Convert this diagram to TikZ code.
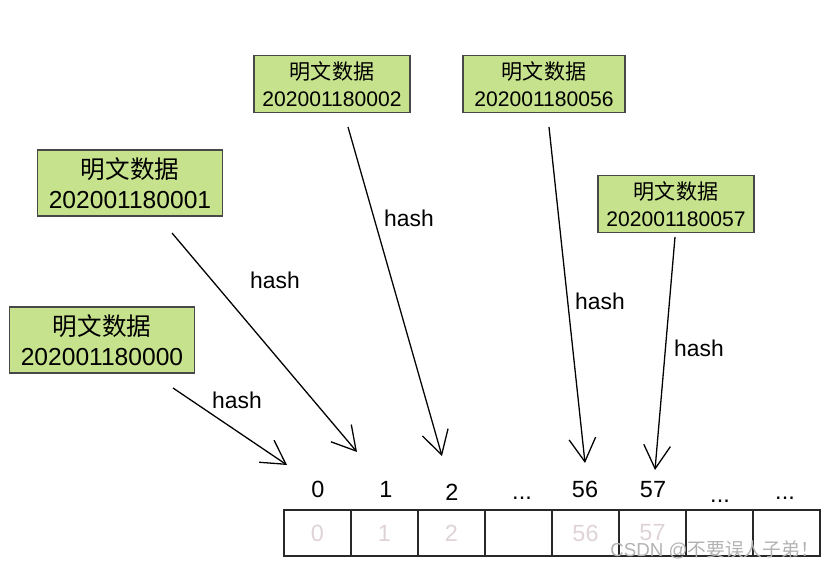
\documentclass[tikz,border=0pt]{standalone}
\usepackage{fontspec}
\setmainfont{Liberation Sans}
\newfontfamily\cjk{Noto Sans CJK SC}
\usetikzlibrary{arrows.meta}

\definecolor{boxgreen}{RGB}{199,226,140}
\definecolor{boxedge}{RGB}{72,72,72}
\definecolor{cellnum}{RGB}{222,211,216}
\definecolor{celledge}{RGB}{40,40,40}

\tikzset{
  bigbox/.style={draw=boxedge, line width=1.5pt, fill=boxgreen, align=center,
    minimum width=5.55cm, minimum height=1.98cm, inner sep=0pt,
    font=\fontsize{21}{25.6}\selectfont},
  smallbox/.style={draw=boxedge, line width=1.5pt, fill=boxgreen, align=center,
    minimum width=4.7cm, minimum height=1.71cm, inner sep=0pt,
    font=\fontsize{18}{23}\selectfont},
  hasharrow/.style={-{Straight Barb[length=0.7cm,width=0.8cm]}, line width=1.1pt},
  hashlabel/.style={font=\fontsize{19.5}{20}\selectfont},
  index/.style={anchor=base, font=\fontsize{20}{20}\selectfont},
  cell/.style={draw=celledge, line width=1.2pt, minimum width=2.01cm,
    minimum height=1.38cm, inner sep=0pt, text=cellnum,
    font=\fontsize{20}{20}\selectfont}
}

\begin{document}
\begin{tikzpicture}[x=0.03cm, y=-0.03cm]
  \useasboundingbox (0,0) rectangle (833,570);

  % Plaintext boxes
  \node[bigbox]   (p0)  at (102,340) {{\cjk 明文数据}\\202001180000};
  \node[bigbox]   (p1)  at (130,183) {{\cjk 明文数据}\\202001180001};
  \node[smallbox] (p2)  at (332,84)  {{\cjk 明文数据}\\202001180002};
  \node[smallbox, minimum width=4.86cm] (p56) at (544,84) {{\cjk 明文数据}\\202001180056};
  \node[smallbox] (p57) at (676,204) {{\cjk 明文数据}\\202001180057};

  % Arrow ends
  \coordinate (t0)  at (173,388);  \coordinate (h0)  at (287,465);
  \coordinate (t1)  at (172,233);  \coordinate (h1)  at (357,452);
  \coordinate (t2)  at (348,127);  \coordinate (h2)  at (442,456);
  \coordinate (t56) at (549,127);  \coordinate (h56) at (585,463);
  \coordinate (t57) at (675,237);  \coordinate (h57) at (655,470);

  % Hash arrows
  \draw[hasharrow] (t0)  -- (h0);
  \draw[hasharrow] (t1)  -- (h1);
  \draw[hasharrow] (t2)  -- (h2);
  \draw[hasharrow] (t56) -- (h56);
  \draw[hasharrow] (t57) -- (h57);

  % Hash labels
  \node[hashlabel] (l0)  at (237,400) {hash};
  \node[hashlabel] (l1)  at (275,280) {hash};
  \node[hashlabel] (l2)  at (409,218) {hash};
  \node[hashlabel] (l56) at (600,301) {hash};
  \node[hashlabel] (l57) at (699,348) {hash};

  % Indices above the table
  \node[index] (i0) at (318,497) {0};
  \node[index] (i1) at (386,497) {1};
  \node[index] (i2) at (452,501) {2};
  \node[index] (i3) at (522,499) {...};
  \node[index] (i4) at (585,497) {56};
  \node[index] (i5) at (653,497) {57};
  \node[index] (i6) at (720,502) {...};
  \node[index] (i7) at (785,499) {...};

  % Table cells
  \foreach \t [count=\i from 0] in {0,1,2,{},56,57,{},{}}
    \node[cell] (c\i) at (317.5+67*\i,533) {\t};

  % Watermark
  \node[anchor=east, text=gray!60, font=\fontsize{16}{16}\selectfont]
    (mark) at (823,550) {CSDN @{\cjk 不要误人子弟！}};

\end{tikzpicture}
\end{document}
